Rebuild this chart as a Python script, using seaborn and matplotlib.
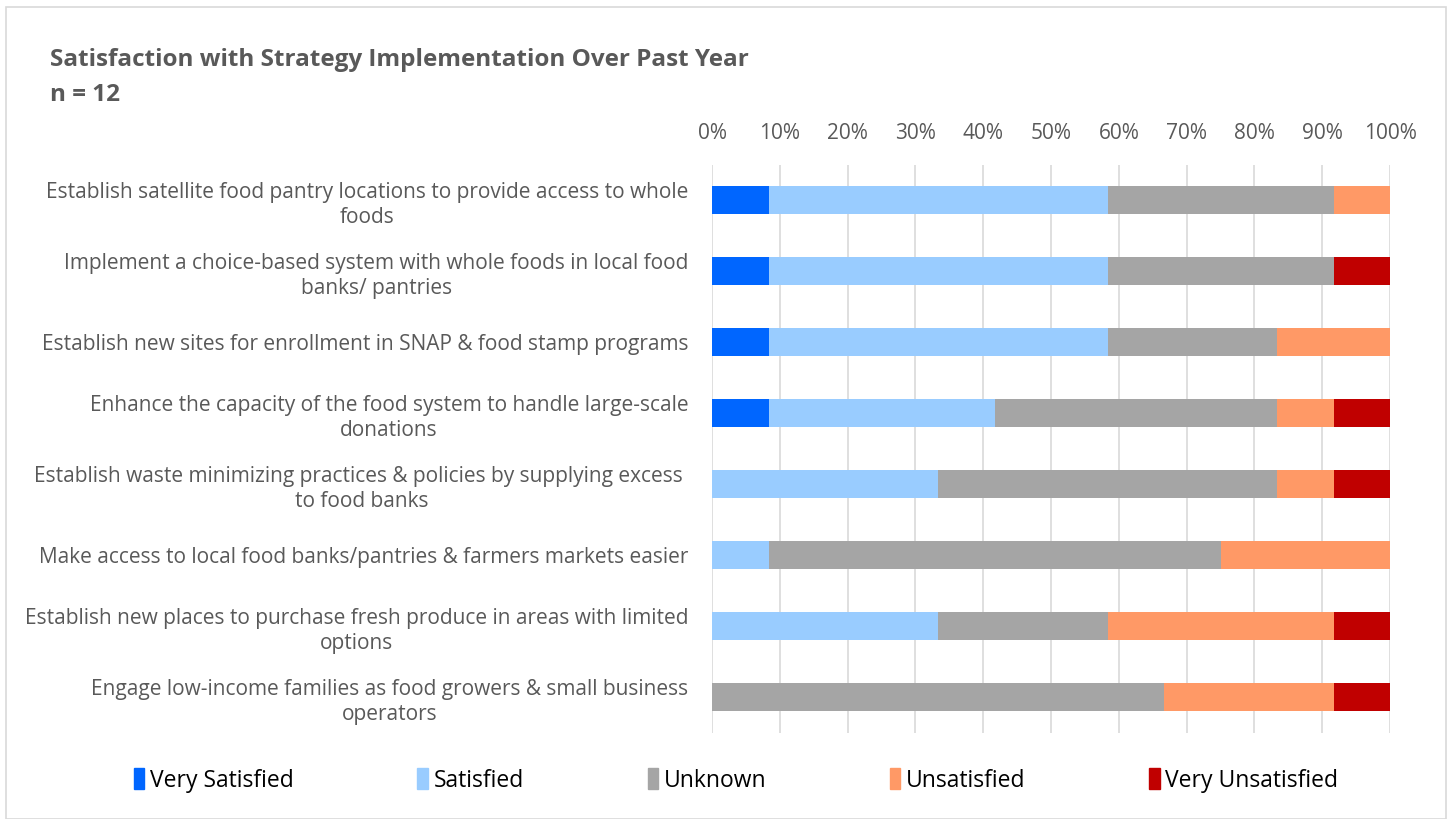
import matplotlib
matplotlib.use("Agg")
import matplotlib.pyplot as plt
import matplotlib.patches as mpatches
import numpy as np
import pandas as pd
import seaborn as sns

# Responses per strategy (n = 12)
strategies = [
    "Establish satellite food pantry locations to provide access to whole\nfoods",
    "Implement a choice-based system with whole foods in local food\nbanks/ pantries",
    "Establish new sites for enrollment in SNAP & food stamp programs",
    "Enhance the capacity of the food system to handle large-scale\ndonations",
    "Establish waste minimizing practices & policies by supplying excess \nto food banks",
    "Make access to local food banks/pantries & farmers markets easier",
    "Establish new places to purchase fresh produce in areas with limited\noptions",
    "Engage low-income families as food growers & small business\noperators",
]
levels = ["Very Satisfied", "Satisfied", "Unknown", "Unsatisfied", "Very Unsatisfied"]
very_satisfied = [1, 1, 1, 1, 0, 0, 0, 0]
satisfied = [6, 6, 6, 4, 4, 1, 4, 0]
unknown = [4, 4, 3, 5, 6, 8, 3, 8]
unsatisfied = [1, 0, 2, 1, 1, 3, 4, 3]
very_unsatisfied = [0, 1, 0, 1, 1, 0, 1, 1]
n_resp = 12
colors = ["#0066FF", "#99CCFF", "#A5A5A5", "#FF9966", "#C00000"]

TEXT = "#595959"
FONT = ["Open Sans", "DejaVu Sans"]

sns.set_theme(style="white")
plt.rcParams["font.family"] = FONT

counts = pd.DataFrame(
    {
        "strategy": strategies,
        "Very Satisfied": very_satisfied,
        "Satisfied": satisfied,
        "Unknown": unknown,
        "Unsatisfied": unsatisfied,
        "Very Unsatisfied": very_unsatisfied,
    }
)
shares = counts[levels].div(n_resp)
cum = shares.cumsum(axis=1)
cum["strategy"] = strategies

fig = plt.figure(figsize=(14.49, 8.19), dpi=100)
ax = fig.add_axes([0.4914, 0.1056, 0.4679, 0.6935])

# stacked bars: draw cumulative totals from the outside in
for level, color in reversed(list(zip(levels, colors))):
    sns.barplot(
        data=cum,
        x=level,
        y="strategy",
        order=strategies,
        color=color,
        width=0.4,
        saturation=1,
        ax=ax,
        linewidth=0,
    )

ax.set_xlim(0, 1)
ax.set_ylim(7.5, -0.5)
ax.set_xticks(np.linspace(0, 1, 11))
ax.set_xticklabels([f"{int(round(t * 100))}%" for t in np.linspace(0, 1, 11)])
ax.xaxis.tick_top()
ax.grid(axis="x", color="#D9D9D9", linewidth=1.2)
ax.set_axisbelow(True)
for s in ax.spines.values():
    s.set_visible(False)
ax.set_xlabel("")
ax.set_ylabel("")
ax.tick_params(axis="x", length=0, pad=15, labelsize=15, labelcolor=TEXT)
ax.tick_params(axis="y", length=0, pad=17, labelsize=15, labelcolor=TEXT)
for lab in ax.get_yticklabels():
    lab.set_multialignment("center")
    lab.set_linespacing(1.25)

fig.text(0.0345, 0.92, "Satisfaction with Strategy Implementation Over Past Year",
         fontsize=17.5, fontweight="bold", color=TEXT, ha="left", va="baseline")
fig.text(0.0345, 0.877, "n = 12", fontsize=17.5, fontweight="bold", color=TEXT,
         ha="left", va="baseline")

handles = [mpatches.Patch(color=c, label=l) for l, c in zip(levels, colors)]
fig.legend(
    handles=handles,
    loc="center",
    bbox_to_anchor=(0.508, 0.047),
    ncol=5,
    frameon=False,
    fontsize=16.5,
    labelcolor="black",
    handlelength=0.45,
    handleheight=1.0,
    handletextpad=0.25,
    columnspacing=5.4,
)

fig.patches.append(
    mpatches.Rectangle((0.004, 0.0), 0.994, 0.992, transform=fig.transFigure,
                       fill=False, edgecolor="#D9D9D9", linewidth=1.2)
)

fig.savefig("out.png", dpi=100)
